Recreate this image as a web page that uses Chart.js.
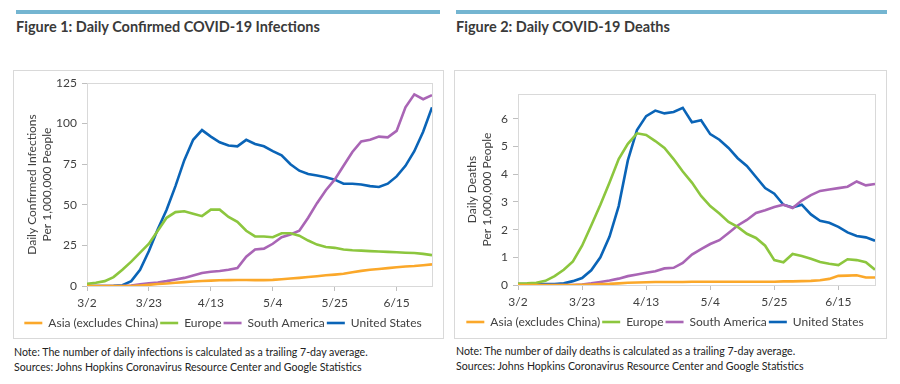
<!DOCTYPE html>
<html><head><meta charset="utf-8">
<script src="https://cdn.jsdelivr.net/npm/chart.js@4.4.0/dist/chart.umd.min.js"></script>
<style>
body{margin:0;background:#fff;width:900px;height:384px;overflow:hidden;position:relative;font-family:Lato,'Open Sans',sans-serif;}
.rule{position:absolute;top:10px;height:4px;background:#74b5d1;}
.title{position:absolute;top:18px;font:bold 14.5px Lato;color:#3a3a3a;white-space:nowrap;}
.box{position:absolute;top:70px;height:267px;border:1px solid #d9d9d9;}
canvas{position:absolute;}
.note{position:absolute;font:10.6px Lato;color:#222;white-space:nowrap;}
</style></head><body>
<div class="rule" style="left:16px;width:424px"></div>
<div class="rule" style="left:456px;width:431px"></div>
<div class="title" style="left:16px">Figure 1: Daily Confirmed COVID-19 Infections</div>
<div class="title" style="left:456px">Figure 2: Daily COVID-19 Deaths</div>
<div class="box" style="left:13px;width:429px"></div>
<div class="box" style="left:454px;width:431px"></div>
<canvas id="c1" width="430" height="275" style="left:14px;top:70px"></canvas>
<canvas id="c2" width="432" height="275" style="left:455px;top:70px"></canvas>
<div class="note" style="left:14px;top:346px">Note: The number of daily infections is calculated as a trailing 7-day average.</div>
<div class="note" style="left:14px;top:361px">Sources: Johns Hopkins Coronavirus Resource Center and Google Statistics</div>
<div class="note" style="left:456px;top:345px">Note: The number of daily deaths is calculated as a trailing 7-day average.</div>
<div class="note" style="left:456px;top:360px">Sources: Johns Hopkins Coronavirus Resource Center and Google Statistics</div>
<script>
// Day index (0 = 3/2)
const days = [0,3,6,9,12,15,18,21,24,27,30,33,36,39,42,45,48,51,54,57,60,63,66,69,72,75,78,81,84,87,90,93,96,99,102,105,108,111,114,117];
const tickDays = [0,21,42,63,84,105];
const tickLabels = ['3/2','3/23','4/13','5/4','5/25','6/15'];
const seriesNames = ['Asia (excludes China)','Europe','South America','United States'];

// Figure 1: daily confirmed infections per 1,000,000
const infAsia = [0,0,0,0,0,0,0.3,0.7,1.2,1.5,2,2.4,2.8,3.1,3.3,3.5,3.6,3.7,3.7,3.6,3.6,3.8,4.2,4.6,5,5.5,6,6.6,7,7.5,8.5,9.3,10,10.5,11,11.5,12,12.3,12.8,13.3];
const infEurope = [1.3,2,3,5.5,10,15,20.5,26,34,42,45.5,46,44.5,43,47,47,42.5,39.5,34,30.5,30.5,30,32.5,32.5,31,28,25.5,24,23.5,22.5,22,21.8,21.5,21.2,21,20.8,20.5,20.3,19.8,19];
const infSAm = [0,0,0,0,0,0.3,1,1.6,2.2,3,4,5,6.5,8,8.8,9.2,10,11,18,22.5,23,26,30,31.7,34,42,51,59,65.5,74,82.5,89,90,92,91.5,95.5,110,118,115,117.5];
const infUS = [0,0,0,0.1,0.5,3,10,21.5,35,47,61.5,77.5,90,96,92,88.5,86.5,86,90,87.5,86,83,80.5,75,71,69,68,67,65.5,63,63,62.5,61.5,61,63,67.5,74,83,95,110];

// Figure 2: daily deaths per 1,000,000
const dthAsia = [0,0,0,0,0,0,0,0.01,0.02,0.03,0.04,0.06,0.08,0.09,0.1,0.11,0.11,0.11,0.11,0.12,0.12,0.12,0.12,0.12,0.12,0.12,0.12,0.12,0.12,0.13,0.13,0.14,0.15,0.17,0.22,0.33,0.34,0.35,0.27,0.27];
const dthEurope = [0.05,0.06,0.08,0.15,0.32,0.55,0.85,1.42,2.15,2.9,3.7,4.55,5.1,5.48,5.42,5.2,4.95,4.55,4.1,3.7,3.22,2.85,2.58,2.28,2.1,1.85,1.7,1.42,0.9,0.82,1.12,1.05,0.95,0.83,0.77,0.72,0.93,0.9,0.82,0.55];
const dthSAm = [0,0,0,0,0,0,0,0.02,0.06,0.11,0.16,0.23,0.32,0.38,0.44,0.5,0.6,0.62,0.8,1.1,1.3,1.48,1.62,1.88,2.15,2.35,2.6,2.7,2.82,2.9,2.78,3.05,3.25,3.4,3.45,3.5,3.55,3.74,3.6,3.65];
const dthUS = [0.03,0.03,0.03,0.03,0.03,0.06,0.14,0.25,0.53,1.0,1.75,2.85,4.5,5.6,6.1,6.3,6.2,6.25,6.4,5.88,5.95,5.45,5.25,4.95,4.58,4.3,3.9,3.5,3.3,2.9,2.8,2.9,2.55,2.32,2.25,2.1,1.9,1.77,1.72,1.6];

const colors = ['#fba82a','#8cc63e','#a965b5','#0a64b7'];
const FONT = 'Lato';
const TXT = '#404040';

const borderPlugin = {
  id: 'plotBorder',
  beforeDatasetsDraw(chart) {
    const a = chart.chartArea, ctx = chart.ctx;
    ctx.save();
    ctx.strokeStyle = '#d9d9d9';
    ctx.lineWidth = 1;
    ctx.strokeRect(a.left + 0.5, a.top + 0.5, a.right - a.left, a.bottom - a.top);
    ctx.restore();
  }
};

function build(id, seriesList, yMax, yStep, yTitle, L) {
  const datasets = seriesList.map((vals, i) => ({
    label: seriesNames[i],
    data: vals.map((v, k) => ({x: days[k], y: v})),
    borderColor: colors[i],
    backgroundColor: colors[i],
    borderWidth: 2.6,
    pointRadius: 0,
    tension: 0,
    fill: false
  }));
  return new Chart(document.getElementById(id), {
    type: 'line',
    data: {datasets},
    plugins: [borderPlugin],
    options: {
      responsive: false,
      animation: false,
      layout: {padding: {top: L.top, right: L.right, bottom: L.bottom, left: 0}},
      plugins: {
        legend: {
          position: 'bottom',
          labels: {
            usePointStyle: true, pointStyle: 'line', pointStyleWidth: 18,
            padding: 2, color: TXT, font: {family: FONT, size: 12}
          }
        },
        tooltip: {enabled: false}
      },
      scales: {
        x: {
          type: 'linear', min: 0, max: 117,
          afterBuildTicks: s => { s.ticks = tickDays.map(v => ({value: v})); },
          afterFit: s => { s.height = L.xh; },
          ticks: {
            callback: v => tickLabels[tickDays.indexOf(v)],
            color: TXT, font: {family: FONT, size: 12}, padding: 5, maxRotation: 0
          },
          grid: {drawOnChartArea: false, tickLength: 5, color: '#bfbfbf'},
          border: {color: '#bfbfbf'}
        },
        y: {
          min: 0, max: yMax,
          afterBuildTicks: s => {
            s.ticks = s.ticks.filter(t => Math.abs(t.value / yStep - Math.round(t.value / yStep)) < 1e-6);
          },
          afterFit: s => { s.width = L.yw; },
          ticks: {stepSize: yStep, color: TXT, font: {family: FONT, size: 12}, padding: 5},
          grid: {drawOnChartArea: false, tickLength: 5, color: '#bfbfbf'},
          border: {color: '#bfbfbf'},
          title: {
            display: true, text: yTitle, color: TXT,
            font: {family: FONT, size: 12, lineHeight: 1.25},
            padding: {top: L.tp, bottom: 0}
          }
        }
      }
    }
  });
}

build('c1', [infAsia, infEurope, infSAm, infUS], 125, 25,
  ['Daily Confirmed Infections', 'Per 1,000,000 People'],
  {top: 13, right: 12, bottom: 6, xh: 29, yw: 73, tp: 10.5});
build('c2', [dthAsia, dthEurope, dthSAm, dthUS], 6.9, 1,
  ['Daily Deaths', 'Per 1,000,000 People'],
  {top: 24, right: 12, bottom: 7, xh: 29, yw: 63, tp: 9.5});
</script>
</body></html>
